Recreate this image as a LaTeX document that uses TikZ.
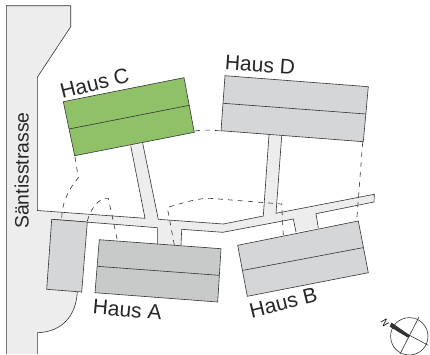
\documentclass[tikz,border=0pt]{standalone}
\usepackage{fontspec}
\setmainfont{Liberation Sans}
\definecolor{roadc}{HTML}{EDEDEE}
\definecolor{greyc}{HTML}{D4D6D8}
\definecolor{darkc}{HTML}{C8CACA}
\definecolor{greenc}{HTML}{8FC169}
\definecolor{linec}{HTML}{333333}
\tikzset{x=1pt,y=-1pt,
 ln/.style={draw=linec,line width=0.6pt},
 dash2/.style={draw=linec,line width=0.6pt,dash pattern=on 5pt off 5pt},
 lbl/.style={font=\fontsize{21}{22}\selectfont,text=black!85,inner sep=0pt}}
\begin{document}
\begin{tikzpicture}
\useasboundingbox (0,0) rectangle (430,354);
% road network fill
\path[fill=roadc] (6.3,354) -- (6.3,5.7) -- (70.7,5.7) -- (70.7,26.7) -- (37.3,77.3) -- (37.3,210.5)
 -- (145,218.3) -- (130.7,145.7) -- (142.7,143.3) -- (158.3,219.3) -- (223.3,224) -- (263.3,216) -- (269,135) -- (281.7,135.7)
 -- (276,213.3) -- (374.3,194.3) -- (374,202) -- (316,213.7) -- (318.3,228) -- (296,232) -- (293.3,219) -- (222.7,232.3)
 -- (181.7,229.3) -- (181,245) -- (157.3,244) -- (157.3,227.7) -- (51.7,219.3) -- (46.7,289.3) -- (77.3,292)
 .. controls (76,316) and (62,332) .. (37.3,332.7) -- (37.3,354) -- cycle;
% road edges
\draw[ln] (6.3,354) -- (6.3,5.7) -- (70.7,5.7) -- (70.7,26.7) -- (37.3,77.3) -- (37.3,210.5) -- (145,218.3) -- (130.7,145.7);
\draw[ln] (142.7,143.3) -- (158.3,219.3) -- (223.3,224) -- (263.3,216) -- (269,135);
\draw[ln] (281.7,135.7) -- (276,213.3) -- (374.3,194.3) -- (374,202) -- (316,213.7) -- (318.3,228);
\draw[ln] (296,232) -- (293.3,219) -- (222.7,232.3) -- (181.7,229.3) -- (181,245);
\draw[ln] (157.3,244) -- (157.3,227.7) -- (51.7,219.3);
\draw[ln] (77.3,292) .. controls (76,316) and (62,332) .. (37.3,332.7) -- (37.3,354);
% Haus C
\path[ln,fill=greenc] (63.3,101.7) -- (184,77.7) -- (194.3,132.3) -- (74.7,155.7) -- cycle;
\draw[ln] (69,129) -- (189.3,105.3);
% Haus D
\path[ln,fill=greyc] (225,75.7) -- (368.3,86.7) -- (363.3,141.7) -- (221,130.7) -- cycle;
\draw[ln] (223.3,103.3) -- (366,114);
% Haus A
\path[ln,fill=darkc] (99.3,239.7) -- (221,248.7) -- (217.7,302) -- (95,292.7) -- cycle;
\draw[ln] (97.3,266.3) -- (219,275.3);
% Haus B
\path[ln,fill=greyc] (237.7,245.3) -- (358.3,221) -- (368.3,272.7) -- (247.3,296.3) -- cycle;
\draw[ln] (243.3,270.3) -- (362.7,247.7);
% garage
\path[ln,fill=greyc] (51.7,219.3) -- (87.3,222) -- (81.7,292) -- (46.7,289.3) -- cycle;
% dashes
\draw[dash2] (195,131) .. controls (200,130) and (208,129.5) .. (220.7,131);
\draw[dash2] (75,157) -- (78.3,177.7) .. controls (70,188) and (62,200) .. (61.7,219);
\draw[dash2] (87.3,221) .. controls (91,208) and (98,200) .. (105,198.3) -- (108.3,198.3) -- (117.3,240);
\draw[dash2] (174.3,245) -- (167.3,207.5) .. controls (185,202) and (200,198) .. (210,198.3) -- (281.7,204) -- (283.3,235);
\draw[dash2] (362.7,142) -- (356.7,220.5);
% labels
\node[lbl,rotate=90,font=\fontsize{19.4}{21}\selectfont] (street) at (21.7,170.5) {Säntisstrasse};
\node[lbl,rotate=14] (hc) at (94.7,83.5) {Haus C};
\node[lbl,rotate=-4] (hd) at (260,65) {Haus D};
\node[lbl,rotate=-5] (ha) at (127.3,309.7) {Haus A};
\node[lbl,rotate=14] (hb) at (283.3,303) {Haus B};
% north sign
\draw[ln] (409.3,336.3) circle (18.7);
\draw[ln] (400,354) -- (419,317);
\draw[ln] (392,326) -- (428.3,345.3);
\fill[linec] (389.5,326.5) -- (391.5,322.5) -- (410,335.5) -- (408.5,338) -- cycle;
\node[font=\fontsize{9.5}{10}\selectfont,rotate=-60,inner sep=0pt] (nn) at (385,322.5) {N};
\end{tikzpicture}
\end{document}
